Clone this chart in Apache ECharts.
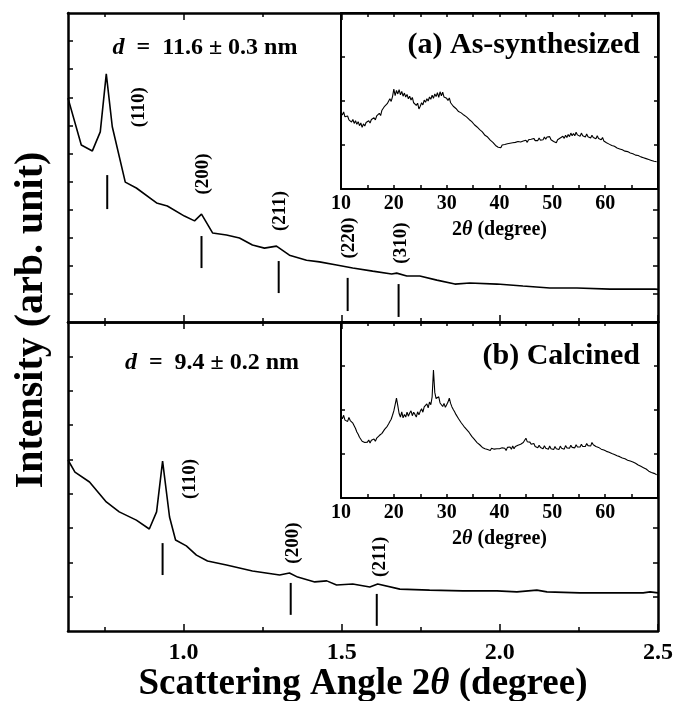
<!DOCTYPE html>
<html>
<head>
<meta charset="utf-8">
<script src="https://cdn.jsdelivr.net/npm/echarts@6/dist/echarts.min.js"></script>
<style>
  html, body { margin: 0; padding: 0; background: #fff; }
  #chart { width: 675px; height: 701px; }
</style>
</head>
<body>
<div id="chart"></div>
<script>
// main SAXS curves, [2theta, intensity]
const curveA = [
  [0.635, 7.97], [0.677, 6.30], [0.712, 6.09], [0.737, 6.77], [0.756, 8.83], [0.775, 6.95],
  [0.816, 4.98], [0.851, 4.77], [0.915, 4.24], [0.949, 4.13], [1.003, 3.77], [1.035, 3.60],
  [1.057, 3.84], [1.092, 3.17], [1.136, 3.10], [1.177, 2.99], [1.218, 2.74], [1.256, 2.63],
  [1.294, 2.70], [1.335, 2.38], [1.389, 2.20], [1.430, 2.14], [1.484, 2.03], [1.535, 1.92],
  [1.598, 1.81], [1.658, 1.71], [1.674, 1.74], [1.706, 1.64], [1.747, 1.64], [1.801, 1.49],
  [1.858, 1.35], [1.905, 1.39], [1.991, 1.35], [2.073, 1.28], [2.158, 1.21], [2.244, 1.21],
  [2.348, 1.17], [2.491, 1.17], [2.5, 1.16]
]
const curveB = [
  [0.635, 4.98], [0.657, 4.63], [0.703, 4.34], [0.756, 3.76], [0.797, 3.47], [0.851, 3.23],
  [0.892, 2.97], [0.915, 3.47], [0.934, 4.95], [0.956, 3.32], [0.975, 2.65], [1.009, 2.48],
  [1.041, 2.21], [1.076, 2.04], [1.136, 1.92], [1.218, 1.75], [1.304, 1.63], [1.335, 1.69],
  [1.361, 1.57], [1.415, 1.43], [1.453, 1.46], [1.484, 1.34], [1.535, 1.37], [1.589, 1.28],
  [1.614, 1.37], [1.684, 1.22], [1.778, 1.19], [1.883, 1.17], [1.991, 1.17], [2.054, 1.14],
  [2.117, 1.19], [2.149, 1.14], [2.253, 1.11], [2.380, 1.11], [2.453, 1.11], [2.475, 1.14],
  [2.5, 1.11]
]

// peak indexing marks
const peakNamesA = ['(110)', '(200)', '(211)', '(220)', '(310)']
const peakPosA = [0.759, 1.057, 1.301, 1.519, 1.680]
const barHiA = [5.23, 3.06, 2.17, 1.57, 1.35]
const barLoA = [4.02, 1.92, 1.03, 0.39, 0.18]
const nameXA = [0.861, 1.063, 1.304, 1.525, 1.687]
const nameYA = [7.65, 5.27, 3.95, 2.99, 2.81]

const peakNamesB = ['(110)', '(200)', '(211)']
const peakPosB = [0.934, 1.339, 1.611]
const barHiB = [2.56, 1.40, 1.08]
const barLoB = [1.63, 0.47, 0.15]
const nameXB = [1.022, 1.345, 1.620]
const nameYB = [4.43, 2.56, 2.16]

// wide angle XRD insets, sampled every 0.25 degree from 10 (one group of 4 per degree)
const wideStart = 10
const wideStep = 0.25
const wideA = [
  1.73, 1.68, 1.75, 1.64,  1.60, 1.66, 1.57, 1.61,  1.52, 1.58, 1.49, 1.55,
  1.47, 1.53, 1.44, 1.50,  1.40, 1.48, 1.43, 1.51,  1.47, 1.55, 1.50, 1.58,
  1.54, 1.62, 1.57, 1.66,  1.63, 1.72, 1.67, 1.79,  1.82, 1.88, 1.84, 1.94,
  1.96, 2.05, 1.99, 2.10,  2.27, 2.12, 2.24, 2.16,  2.26, 2.14, 2.22, 2.11,
  2.18, 2.09, 2.15, 2.05,  2.11, 2.02, 2.08, 1.96,  1.99, 1.90, 1.95, 1.82,
  1.88, 1.96, 1.91, 2.02,  1.97, 2.05, 2.00, 2.09,  2.04, 2.13, 2.06, 2.16,
  2.10, 2.19, 2.08, 2.21,  2.12, 2.20, 2.09, 2.13,  2.06, 2.01, 2.07, 1.96,
  1.93, 1.88, 1.92, 1.83,  1.82, 1.76, 1.80, 1.73,  1.74, 1.68, 1.72, 1.64,
  1.63, 1.58, 1.61, 1.53,  1.53, 1.46, 1.49, 1.41,  1.41, 1.35, 1.37, 1.30,
  1.28, 1.22, 1.25, 1.18,  1.16, 1.11, 1.13, 1.06,  1.05, 0.99, 1.02, 0.95,
  0.98, 0.94, 1.00, 0.96,  1.01, 0.97, 1.03, 0.99,  1.04, 1.00, 1.05, 1.01,
  1.06, 1.02, 1.08, 1.04,  1.07, 1.03, 1.09, 1.05,  1.11, 1.06, 1.12, 1.08,
  1.13, 1.09, 1.15, 1.10,  1.13, 1.10, 1.16, 1.11,  1.15, 1.12, 1.18, 1.13,
  1.18, 1.14, 1.19, 1.12,  1.15, 1.08, 1.11, 1.05,  1.12, 1.08, 1.16, 1.13,
  1.20, 1.15, 1.22, 1.17,  1.24, 1.19, 1.27, 1.21,  1.26, 1.21, 1.29, 1.23,
  1.25, 1.20, 1.27, 1.21,  1.22, 1.18, 1.25, 1.19,  1.20, 1.16, 1.22, 1.17,
  1.18, 1.14, 1.21, 1.15,  1.16, 1.12, 1.17, 1.09,  1.10, 1.05, 1.08, 1.02,
  1.03, 0.99, 1.02, 0.97,  0.97, 0.93, 0.96, 0.91,  0.93, 0.89, 0.92, 0.86,
  0.89, 0.85, 0.88, 0.82,  0.84, 0.80, 0.83, 0.77,  0.80, 0.76, 0.78, 0.73,
  0.75, 0.71, 0.74, 0.69,  0.71, 0.67, 0.70, 0.65,  0.67, 0.63, 0.66, 0.62
]
const wideB = [
  1.86, 1.80, 1.88, 1.77,  1.81, 1.74, 1.83, 1.76,  1.78, 1.70, 1.66, 1.58,
  1.50, 1.45, 1.38, 1.35,  1.29, 1.33, 1.26, 1.30,  1.27, 1.32, 1.25, 1.31,
  1.28, 1.34, 1.29, 1.36,  1.37, 1.42, 1.40, 1.47,  1.50, 1.56, 1.55, 1.63,
  1.68, 1.74, 1.79, 1.88,  1.98, 2.12, 2.27, 2.10,  1.92, 1.84, 1.96, 1.82,
  1.90, 1.84, 1.95, 1.86,  1.93, 1.98, 1.87, 1.95,  1.90, 1.84, 1.96, 1.89,
  1.97, 2.03, 1.95, 2.07,  2.08, 2.14, 2.05, 2.18,  2.12, 2.30, 2.91, 2.40,
  2.26, 2.22, 2.30, 2.16,  2.20, 2.08, 2.15, 2.06,  2.12, 2.18, 2.27, 2.15,
  2.07, 2.01, 1.96, 1.90,  1.86, 1.80, 1.77, 1.71,  1.69, 1.63, 1.61, 1.56,
  1.53, 1.49, 1.45, 1.40,  1.38, 1.33, 1.30, 1.26,  1.25, 1.21, 1.19, 1.15,
  1.16, 1.12, 1.14, 1.10,  1.12, 1.08, 1.13, 1.09,  1.11, 1.07, 1.12, 1.08,
  1.12, 1.09, 1.14, 1.10,  1.13, 1.08, 1.15, 1.11,  1.16, 1.11, 1.18, 1.12,
  1.17, 1.13, 1.20, 1.16,  1.22, 1.18, 1.26, 1.30,  1.36, 1.28, 1.24, 1.27,
  1.22, 1.18, 1.24, 1.17,  1.18, 1.14, 1.20, 1.15,  1.17, 1.12, 1.19, 1.13,
  1.16, 1.11, 1.18, 1.12,  1.15, 1.10, 1.17, 1.12,  1.15, 1.10, 1.18, 1.13,
  1.16, 1.11, 1.19, 1.14,  1.17, 1.13, 1.20, 1.15,  1.19, 1.14, 1.21, 1.16,
  1.20, 1.16, 1.22, 1.17,  1.21, 1.17, 1.24, 1.19,  1.23, 1.18, 1.26, 1.21,
  1.22, 1.17, 1.21, 1.15,  1.16, 1.11, 1.15, 1.09,  1.11, 1.06, 1.09, 1.04,
  1.06, 1.01, 1.04, 0.99,  1.01, 0.96, 0.99, 0.94,  0.96, 0.91, 0.94, 0.89,
  0.91, 0.86, 0.89, 0.84,  0.87, 0.82, 0.84, 0.79,  0.79, 0.75, 0.77, 0.72,
  0.73, 0.69, 0.71, 0.66,  0.65, 0.61, 0.63, 0.58,  0.59, 0.56, 0.57, 0.53
]

const mainMajor = [1.0, 1.5, 2.0, 2.5]
const mainMinor = [0.75, 1.25, 1.75, 2.25]
const wideTicks = [15, 20, 25, 30, 35, 40, 45, 50, 55, 60, 65]
const wideLabels = [10, 20, 30, 40, 50, 60]

const FONT = '"Liberation Serif", "Times New Roman", serif'
const chart = echarts.init(document.getElementById('chart'))

const xAxes = []
const yAxes = []
function addX(grid, pos, min, max, ticks, len, lineW, extra) {
  xAxes.push(Object.assign({
    type: 'value', gridIndex: grid, position: pos, min: min, max: max,
    axisLine: { show: lineW > 0, onZero: false, lineStyle: { color: '#000', width: lineW } },
    axisTick: { show: true, inside: true, length: len, customValues: ticks, lineStyle: { color: '#000', width: 1.5 } },
    axisLabel: { show: false },
    splitLine: { show: false }
  }, extra || {}))
  return xAxes.length - 1
}
function addY(grid, pos, max, ticks, len, lineW) {
  yAxes.push({
    type: 'value', gridIndex: grid, position: pos, min: 0, max: max,
    axisLine: { show: true, onZero: false, lineStyle: { color: '#000', width: lineW } },
    axisTick: { show: true, inside: true, length: len, customValues: ticks, lineStyle: { color: '#000', width: 1.5 } },
    axisLabel: { show: false },
    splitLine: { show: false }
  })
  return yAxes.length - 1
}

const X0 = 0.635
// top panel
const xTop = addX(0, 'bottom', X0, 2.5, mainMajor, 7, 2.5)
addX(0, 'bottom', X0, 2.5, mainMinor, 4, 0)
addX(0, 'top', X0, 2.5, [1.0, 1.5], 7, 2.5)
addX(0, 'top', X0, 2.5, [0.75, 1.25], 4, 0)
const yTop = addY(0, 'left', 11, [1, 2, 3, 4, 5, 6, 7, 8, 9, 10], 5, 2.5)
addY(0, 'right', 11, [1, 2, 3, 4], 5, 2.5)
// bottom panel
const xBot = addX(1, 'bottom', X0, 2.5, mainMajor, 7, 2.5, {
  axisLabel: { show: true, customValues: mainMajor, margin: 10, color: '#000', fontFamily: FONT, fontWeight: 'bold', fontSize: 24,
    formatter: v => v.toFixed(1) },
  name: 'Scattering Angle 2{it|θ} (degree)', nameLocation: 'middle', nameGap: 35,
  nameTextStyle: { color: '#000', fontFamily: FONT, fontWeight: 'bold', fontSize: 37,
    rich: { it: { fontFamily: FONT, fontWeight: 'bold', fontStyle: 'italic', fontSize: 37, color: '#000' } } }
})
addX(1, 'bottom', X0, 2.5, mainMinor, 4, 0)
addX(1, 'top', X0, 2.5, [1.0, 1.5], 7, 2.5)
addX(1, 'top', X0, 2.5, [0.75, 1.25], 4, 0)
const yBot = addY(1, 'left', 9, [1, 2, 3, 4, 5, 6, 7, 8], 5, 2.5)
addY(1, 'right', 9, [1, 2, 3], 5, 2.5)

// insets
function insetAxes(grid) {
  const xi = addX(grid, 'bottom', 10, 70, wideTicks, 4, 2, {
    axisLabel: { show: true, customValues: wideLabels, margin: 5, color: '#000', fontFamily: FONT, fontWeight: 'bold', fontSize: 20 },
    name: '2{it|θ} (degree)', nameLocation: 'middle', nameGap: 31,
    nameTextStyle: { color: '#000', fontFamily: FONT, fontWeight: 'bold', fontSize: 20,
      rich: { it: { fontFamily: FONT, fontWeight: 'bold', fontStyle: 'italic', fontSize: 20, color: '#000' } } }
  })
  addX(grid, 'top', 10, 70, wideTicks, 4, 2)
  const yi = addY(grid, 'left', 4, [1, 2, 3], 4, 2)
  addY(grid, 'right', 4, [1, 2, 3], 4, 2)
  return [xi, yi]
}
const [xInA, yInA] = insetAxes(2)
const [xInB, yInB] = insetAxes(3)

function line(data, xi, yi, w) {
  return {
    type: 'line', xAxisIndex: xi, yAxisIndex: yi, data: data, showSymbol: false, symbol: 'none',
    lineStyle: { color: '#000', width: w }, animation: false, silent: true
  }
}
function wideData(vals) {
  return vals.map((v, i) => [wideStart + i * wideStep, v])
}

const series = [
  line(curveA, xTop, yTop, 1.6),
  line(curveB, xBot, yBot, 1.6),
  line(wideData(wideA), xInA, yInA, 1.1),
  line(wideData(wideB), xInB, yInB, 1.1)
]
peakPosA.forEach((p, i) => series.push(line([[p, barLoA[i]], [p, barHiA[i]]], xTop, yTop, 2)))
peakPosB.forEach((p, i) => series.push(line([[p, barLoB[i]], [p, barHiB[i]]], xBot, yBot, 2)))

const richD = {
  it: { fontFamily: FONT, fontWeight: 'bold', fontStyle: 'italic', fontSize: 24, fill: '#000' }
}
function txt(x, y, text, size, align, rich) {
  return {
    type: 'text', x: x, y: y,
    style: { text: text, fontFamily: FONT, fontWeight: 'bold', fontSize: size, fill: '#000',
      align: align, verticalAlign: 'middle', rich: rich }
  }
}

const noBounds = { outerBoundsMode: 'none', containLabel: false }
const option = {
  animation: false,
  grid: [
    Object.assign({ left: 68, top: 13, width: 590, height: 309 }, noBounds),
    Object.assign({ left: 68, top: 322, width: 590, height: 309 }, noBounds),
    Object.assign({ left: 341, top: 13, width: 317, height: 176 }, noBounds),
    Object.assign({ left: 341, top: 322, width: 317, height: 176 }, noBounds)
  ],
  xAxis: xAxes,
  yAxis: yAxes,
  series: series,
  graphic: [
    txt(205, 48, '{it|d}  =  11.6 ± 0.3 nm', 24, 'center', richD),
    txt(212, 363, '{it|d}  =  9.4 ± 0.2 nm', 24, 'center', richD),
    txt(640, 45, '(a) As-synthesized', 30, 'right'),
    txt(640, 356, '(b) Calcined', 30, 'right'),
    {
      type: 'text', x: 32, y: 320, rotation: Math.PI / 2,
      style: { text: 'Intensity (arb. unit)', fontFamily: FONT, fontWeight: 'bold', fontSize: 40, fill: '#000',
        align: 'center', verticalAlign: 'middle' }
    }
  ]
}
chart.setOption(option)

// Miller index labels, placed through the panel scales and rotated to read upward
function peakText(names, xs, ys, grid) {
  return names.map((n, i) => {
    const p = chart.convertToPixel({ gridIndex: grid }, [xs[i], ys[i]])
    return {
      type: 'text', x: p[0], y: p[1], rotation: Math.PI / 2,
      style: { text: n, fontFamily: FONT, fontWeight: 'bold', fontSize: 19, fill: '#000',
        align: 'center', verticalAlign: 'middle' }
    }
  })
}
chart.setOption({
  graphic: option.graphic.concat(peakText(peakNamesA, nameXA, nameYA, 0), peakText(peakNamesB, nameXB, nameYB, 1))
})
</script>
</body>
</html>
